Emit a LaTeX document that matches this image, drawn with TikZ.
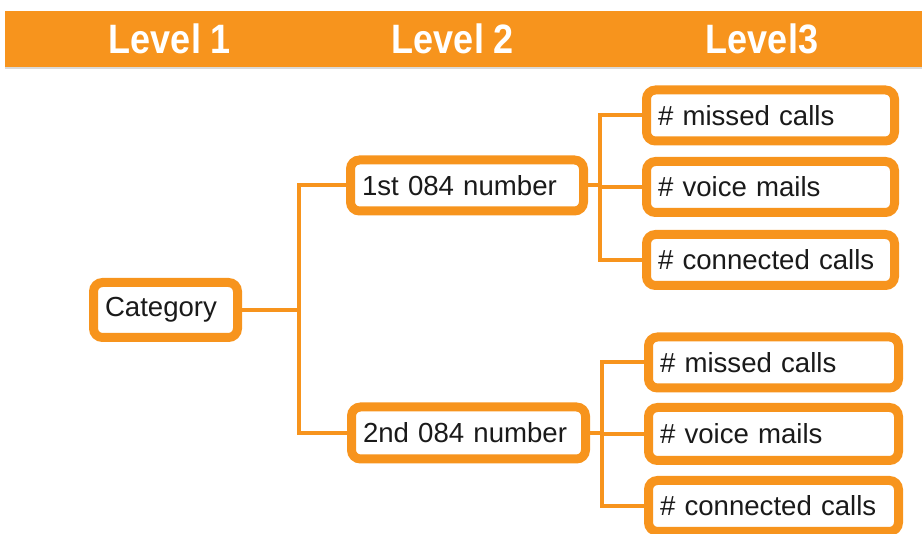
\documentclass[tikz,border=0pt]{standalone}
\usepackage{fontspec}
\setmainfont{Liberation Sans}
\usetikzlibrary{shadows}
\definecolor{orng}{HTML}{F7941D}
\definecolor{txt}{HTML}{1A1A1A}
\tikzset{
  box/.style={draw=orng, line width=9pt, fill=white, rounded corners=9pt,
    align=left, text width=#1, inner xsep=11.5pt, inner ysep=0pt, minimum height=51pt,
    font=\fontsize{27.6}{30}\selectfont, text=txt,
    drop shadow={opacity=0.25, shadow xshift=1pt, shadow yshift=-2pt}},
  conn/.style={draw=orng, line width=4pt},
  head/.style={text=white, font=\bfseries\fontsize{36}{40}\selectfont, inner sep=0pt}
}
\newcommand{\hdtxt}[1]{\scalebox{1}[1.14]{#1}}
\begin{document}
\begin{tikzpicture}[x=1pt,y=-1pt]
\useasboundingbox (0,0) rectangle (922,534);
\fill[orng, drop shadow={opacity=0.3, shadow xshift=0pt, shadow yshift=-2pt}] (5,11) rectangle (922,67);
\node[head] (h1) at (170,39) {\hdtxt{Level 1}};
\node[head] (h2) at (453,39) {\hdtxt{Level 2}};
\node[head] (h3) at (762,39) {\hdtxt{Level3}};

\node[box=121pt, minimum height=55pt] (cat) at (165.5,310) {Category};
\node[box=210pt] (n1) at (467,185.5) {1st 084 number};
\node[box=211pt, minimum height=52pt] (n2) at (468.5,433) {2nd 084 number};

\node[box=225pt] (a1) at (770.5,115.5) {\# missed calls};
\node[box=225pt] (a2) at (770.5,187) {\# voice mails};
\node[box=225pt] (a3) at (770.5,260) {\# connected calls};

\node[box=227pt] (b1) at (773.5,362.5) {\# missed calls};
\node[box=227pt, minimum height=53pt] (b2) at (773.5,434) {\# voice mails};
\node[box=227pt] (b3) at (773.5,506) {\# connected calls};

\draw[conn] (cat.east) -- ++(57,0) coordinate (j0);
\draw[conn] (j0) |- (n1.west);
\draw[conn] (j0) |- (n2.west);
\draw[conn] (n1.east) -- ++(12,0) coordinate (j1);
\draw[conn] (j1) |- (a1.west);
\draw[conn] (j1) |- (a3.west);
\draw[conn] (j1 |- a2.west) -- (a2.west);
\draw[conn] (n2.east) -- ++(12,0) coordinate (j2);
\draw[conn] (j2) |- (b1.west);
\draw[conn] (j2) |- (b3.west);
\draw[conn] (j2 |- b2.west) -- (b2.west);
\end{tikzpicture}
\end{document}
